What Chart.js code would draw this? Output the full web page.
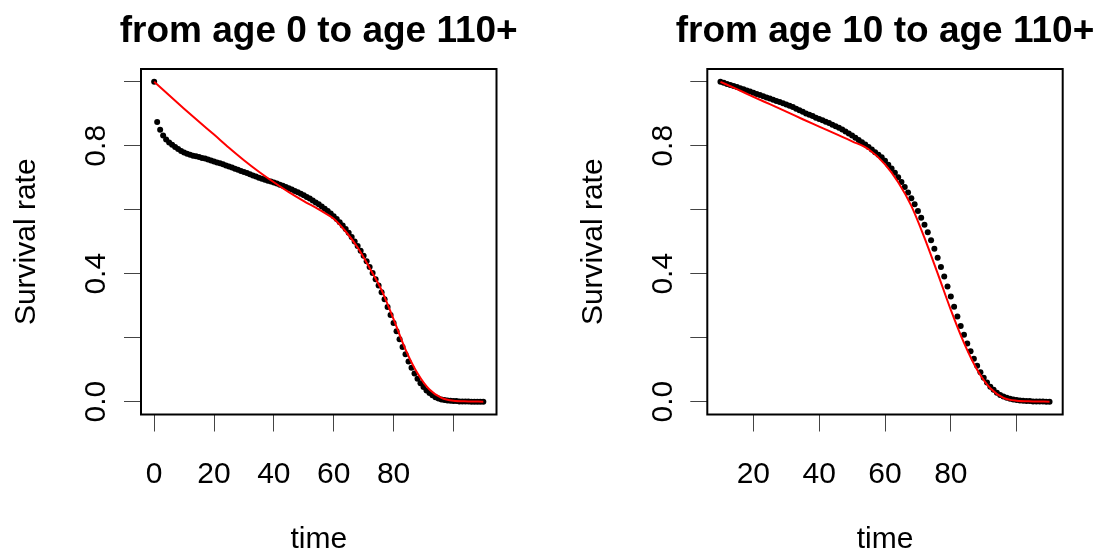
<!DOCTYPE html>
<html>
<head>
<meta charset="utf-8">
<title>Survival curves</title>
<script src="https://cdn.jsdelivr.net/npm/chart.js@4"></script>
<style>
  body { margin: 0; background: #fff; }
  #wrap { position: relative; width: 1100px; height: 555px; }
  canvas { position: absolute; top: 0; }
  #left { left: 0; }
  #right { left: 550px; }
</style>
</head>
<body>
<div id="wrap">
  <canvas id="left" width="550" height="555"></canvas>
  <canvas id="right" width="550" height="555"></canvas>
</div>
<script>
// observed survival, one point per year of age
const ages = [
  0, 1, 2, 3, 4, 5, 6, 7, 8, 9, 10, 11, 12, 13, 14, 15, 16, 17, 18, 19,
  20, 21, 22, 23, 24, 25, 26, 27, 28, 29, 30, 31, 32, 33, 34, 35, 36, 37, 38, 39,
  40, 41, 42, 43, 44, 45, 46, 47, 48, 49, 50, 51, 52, 53, 54, 55, 56, 57, 58, 59,
  60, 61, 62, 63, 64, 65, 66, 67, 68, 69, 70, 71, 72, 73, 74, 75, 76, 77, 78, 79,
  80, 81, 82, 83, 84, 85, 86, 87, 88, 89, 90, 91, 92, 93, 94, 95, 96, 97, 98, 99,
  100, 101, 102, 103, 104, 105, 106, 107, 108, 109, 110
];

// survival from birth (ages 0..110)
const survFrom0 = [
  1.000, 0.874, 0.850, 0.832, 0.820, 0.810, 0.803, 0.796, 0.790, 0.784,
  0.779, 0.775, 0.772, 0.769, 0.767, 0.765, 0.762, 0.760, 0.757, 0.754,
  0.751, 0.748, 0.745, 0.742, 0.738, 0.735, 0.732, 0.728, 0.725, 0.721,
  0.718, 0.715, 0.711, 0.707, 0.704, 0.700, 0.697, 0.694, 0.691, 0.688,
  0.685, 0.682, 0.678, 0.675, 0.671, 0.667, 0.663, 0.659, 0.655, 0.650,
  0.645, 0.640, 0.635, 0.629, 0.623, 0.617, 0.610, 0.603, 0.596, 0.588,
  0.580, 0.571, 0.561, 0.551, 0.540, 0.528, 0.515, 0.501, 0.487, 0.472,
  0.456, 0.439, 0.421, 0.402, 0.383, 0.363, 0.342, 0.320, 0.296, 0.271,
  0.246, 0.220, 0.195, 0.171, 0.148, 0.126, 0.106, 0.088, 0.072, 0.058,
  0.046, 0.035, 0.027, 0.020, 0.014, 0.010, 0.007, 0.005, 0.004, 0.003,
  0.002, 0.002, 0.001, 0.001, 0.001, 0.001, 0.000, 0.000, 0.000, 0.000,
  0.000
];

// survival conditional on reaching age 10 (ages 10..110)
const survFrom10 = [
  1.000, 0.997, 0.993, 0.990, 0.987, 0.984, 0.980, 0.977, 0.973, 0.970,
  0.966, 0.962, 0.959, 0.955, 0.951, 0.948, 0.944, 0.940, 0.937, 0.933,
  0.929, 0.925, 0.921, 0.916, 0.911, 0.906, 0.901, 0.897, 0.893, 0.888,
  0.884, 0.880, 0.875, 0.871, 0.866, 0.861, 0.856, 0.851, 0.845, 0.838,
  0.832, 0.825, 0.818, 0.811, 0.804, 0.796, 0.788, 0.780, 0.772, 0.764,
  0.753, 0.741, 0.729, 0.716, 0.702, 0.687, 0.671, 0.654, 0.636, 0.617,
  0.596, 0.575, 0.553, 0.530, 0.505, 0.478, 0.450, 0.421, 0.391, 0.360,
  0.329, 0.297, 0.266, 0.237, 0.209, 0.182, 0.158, 0.134, 0.112, 0.092,
  0.075, 0.060, 0.047, 0.037, 0.028, 0.021, 0.016, 0.012, 0.009, 0.007,
  0.005, 0.004, 0.003, 0.002, 0.002, 0.001, 0.001, 0.001, 0.001, 0.000,
  0.000
];

// fitted curves
const fitAges0 = [0, 5, 10, 15, 20, 25, 30, 35, 40, 45, 50, 55, 60, 64, 68, 72, 76, 80, 84, 88, 92, 96, 100, 105, 110];
const fit0 = [1.000, 0.958, 0.916, 0.875, 0.835, 0.794, 0.755, 0.719, 0.686, 0.655, 0.627, 0.601, 0.572,
  0.532, 0.482, 0.418, 0.349, 0.258, 0.163, 0.089, 0.038, 0.012, 0.003, 0.001, 0.000];

const fitAges10 = [10, 15, 20, 25, 30, 35, 40, 45, 50, 55, 60, 64, 68, 72, 76, 80, 84, 88, 92, 96, 100, 105, 110];
const fit10 = [1.000, 0.977, 0.953, 0.930, 0.907, 0.883, 0.860, 0.837, 0.814, 0.789, 0.742,
  0.686, 0.612, 0.512, 0.401, 0.287, 0.184, 0.100, 0.042, 0.012, 0.003, 0.001, 0.000];

const yTicks = [0, 0.2, 0.4, 0.6, 0.8, 1.0];
const yLabels = [0, 0.4, 0.8];
const xTicks0 = [0, 20, 40, 60, 80, 100];
const xLabels0 = [0, 20, 40, 60, 80];
const xTicks10 = [20, 40, 60, 80, 100];
const xLabels10 = [20, 40, 60, 80];

const FAMILY = 'Arial, "Liberation Sans", Helvetica, sans-serif';

// closed frame around the plotting region
const boxPlugin = {
  id: 'box',
  afterDraw(chart) {
    const { ctx, chartArea: a } = chart;
    ctx.save();
    ctx.strokeStyle = '#000';
    ctx.lineWidth = 2;
    ctx.strokeRect(a.left, a.top, a.right - a.left, a.bottom - a.top);
    ctx.restore();
  }
};

// main title centred over the plot box; the built-in title squeezes
// text that is wider than the chart area
const panelTitle = {
  id: 'panelTitle',
  afterDraw(chart, args, opts) {
    const { ctx, chartArea: a } = chart;
    ctx.save();
    ctx.fillStyle = '#000';
    ctx.font = 'bold 37px ' + FAMILY;
    ctx.textAlign = 'center';
    ctx.textBaseline = 'middle';
    ctx.fillText(opts.text, (a.left + a.right) / 2, opts.y);
    ctx.restore();
  }
};

function toPoints(xs, ys) {
  return ys.map((y, i) => ({ x: xs[i], y: y }));
}

function makePanel(id, title, obsX, obsY, fitX, fitY, xMin, xMax, xTicks, xLabels, padLeft, padRight) {
  const ctx = document.getElementById(id).getContext('2d');
  return new Chart(ctx, {
    type: 'scatter',
    data: {
      datasets: [
        {
          label: 'fit',
          data: toPoints(fitX, fitY),
          showLine: true,
          borderColor: '#ff0000',
          borderWidth: 2,
          pointRadius: 0,
          cubicInterpolationMode: 'monotone',
          order: 0
        },
        {
          label: 'observed',
          data: toPoints(obsX, obsY),
          showLine: false,
          pointRadius: 3,
          pointBackgroundColor: '#000',
          pointBorderWidth: 0,
          order: 1
        }
      ]
    },
    options: {
      responsive: false,
      animation: false,
      devicePixelRatio: 1,
      events: [],
      layout: { padding: { left: padLeft, right: padRight, top: 69, bottom: 0 } },
      plugins: {
        legend: { display: false },
        tooltip: { enabled: false },
        title: { display: false },
        panelTitle: { text: title, y: 32 }
      },
      scales: {
        x: {
          type: 'linear',
          min: xMin,
          max: xMax,
          afterBuildTicks: s => { s.ticks = xTicks.map(v => ({ value: v })); },
          afterFit: s => { s.height = 140.5; },
          ticks: {
            autoSkip: false,
            maxRotation: 0,
            padding: 25,
            color: '#000',
            font: { family: FAMILY, size: 30 },
            callback: v => (xLabels.includes(v) ? String(v) : '')
          },
          grid: { drawOnChartArea: false, drawTicks: true, tickLength: 17, color: '#444', lineWidth: 1 },
          border: { display: false },
          title: {
            display: true,
            text: 'time',
            color: '#000',
            font: { family: FAMILY, size: 30, lineHeight: 1 },
            padding: { top: 0, bottom: 0 }
          }
        },
        y: {
          type: 'linear',
          min: -0.04,
          max: 1.04,
          afterBuildTicks: s => { s.ticks = yTicks.map(v => ({ value: v })); },
          afterFit: s => { s.width = 141; },
          ticks: {
            autoSkip: false,
            minRotation: 90,
            maxRotation: 90,
            crossAlign: 'center',
            padding: 6,
            color: '#000',
            font: { family: FAMILY, size: 30 },
            callback: v => (yLabels.includes(v) ? v.toFixed(1) : '')
          },
          grid: { drawOnChartArea: false, drawTicks: true, tickLength: 17, color: '#444', lineWidth: 1 },
          border: { display: false },
          title: {
            display: true,
            text: 'Survival rate',
            color: '#000',
            font: { family: FAMILY, size: 30, lineHeight: 1.2 },
            padding: { top: 9, bottom: 0 }
          }
        }
      }
    },
    plugins: [boxPlugin, panelTitle]
  });
}

makePanel('left', 'from age 0 to age 110+', ages, survFrom0, fitAges0, fit0,
  -4.4, 114.4, xTicks0, xLabels0, 0, 53.5);
makePanel('right', 'from age 10 to age 110+', ages.slice(10), survFrom10, fitAges10, fit10,
  6, 114, xTicks10, xLabels10, 16.3, 37.3);
</script>
</body>
</html>
